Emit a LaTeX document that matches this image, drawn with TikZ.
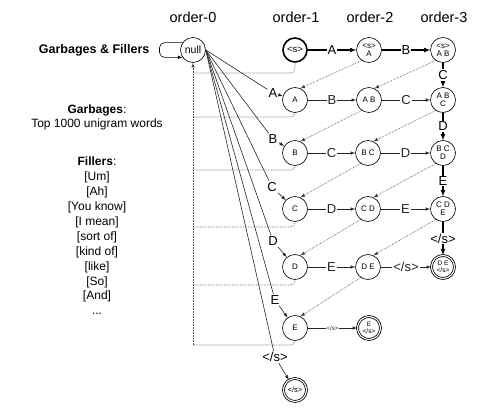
\documentclass[tikz,border=0pt]{standalone}
\usepackage{fontspec}
\setmainfont{Liberation Sans}

\begin{document}
\begin{tikzpicture}[x=1pt, y=-1pt, >=latex, line width=0.6pt,
    state/.style={circle, draw, minimum size=25pt, inner sep=0pt, align=center, font=\fontsize{8}{8}\selectfont},
    start/.style={state, line width=1.6pt, minimum size=24pt, font=\fontsize{9.5}{10}\selectfont},
    final/.style={state, double, line width=0.8pt, double distance=1.1pt, minimum size=23pt, font=\fontsize{6.5}{6.5}\selectfont},
    lbl/.style={fill=white, inner sep=1pt, font=\fontsize{13}{13}\selectfont},
    tinylbl/.style={fill=white, inner sep=1pt, font=\fontsize{6}{6}\selectfont},
    hdr/.style={font=\fontsize{14.5}{15}\selectfont},
    txt/.style={align=center, font=\fontsize{12}{14.9}\selectfont},
    edge/.style={->, black!85},
    big/.style={->, line width=1.1pt},
    back/.style={densely dotted, black!75}
]

\useasboundingbox (0,0) rectangle (490,414);

% Headers
\node[hdr] (h0) at (193,17) {order-0};
\node[hdr] (h1) at (296,17) {order-1};
\node[hdr] (h2) at (370,17) {order-2};
\node[hdr] (h3) at (444,17) {order-3};

% Left text
\node[anchor=east, font=\bfseries\fontsize{12.5}{13}\selectfont] (gf) at (153,50) {Garbages \& Fillers};
\node[txt, font=\fontsize{12}{14}\selectfont] (garb) at (97,117) {\textbf{Garbages}:\\Top 1000 unigram words};
\node[txt] (fill) at (97,236) {\textbf{Fillers}:\\{[Um]}\\{[Ah]}\\{[You know]}\\{[I mean]}\\{[sort of]}\\{[kind of]}\\{[like]}\\{[So]}\\{[And]}\\...};

% Nodes
\node[state, font=\fontsize{10.5}{11}\selectfont] (null) at (193,50) {null};
\node[start] (s1) at (295,50) {<s>};
\node[state] (s2) at (369,50) {<s>\\A};
\node[state] (s3) at (443,50) {<s>\\A B};
\node[state] (a1) at (295,100) {A};
\node[state] (a2) at (369,100) {A B};
\node[state] (a3) at (443,100) {A B\\C};
\node[state] (b1) at (295,153) {B};
\node[state] (b2) at (368,153) {B C};
\node[state] (b3) at (443,153) {B C\\D};
\node[state] (c1) at (295,209) {C};
\node[state] (c2) at (368,209) {C D};
\node[state] (c3) at (443,209) {C D\\E};
\node[state] (d1) at (295,267) {D};
\node[state] (d2) at (368,267) {D E};
\node[final] (d3) at (443,267) {D E\\</s>};
\node[state] (e1) at (295,328) {E};
\node[final] (e2) at (369,328) {E\\</s>};
\node[final, font=\fontsize{7.5}{7.5}\selectfont] (fin) at (295,390) {</s>};

% Fan labels
\node[lbl] (fa) at (273,93) {A};
\node[lbl] (fb) at (273,139) {B};
\node[lbl] (fc) at (272,187) {C};
\node[lbl] (fd) at (273,241) {D};
\node[lbl] (fe) at (275,300) {E};
\node[lbl] (fs) at (275,357) {</s>};

% Backoff corners
\coordinate (k0) at (193,73);
\coordinate (k1) at (193,117);
\coordinate (k2) at (193,170);
\coordinate (k3) at (193,227);
\coordinate (k4) at (193,285);
\coordinate (k5) at (193,345);

% Arrows
\draw[->, rounded corners=5pt] (null.145) -- ++(-23,0) |- (null.215);
\draw[big] (s1) -- node[lbl]{A} (s2);
\draw[big] (s2) -- node[lbl]{B} (s3);
\draw[big] (s3) -- node[lbl]{C} (a3);
\draw[big] (a3) -- node[lbl]{D} (b3);
\draw[big] (b3) -- node[lbl]{E} (c3);
\draw[big] (c3) -- node[lbl]{</s>} (d3);
\draw[edge] (a1) -- node[lbl]{B} (a2);
\draw[edge] (a2) -- node[lbl]{C} (a3);
\draw[edge] (b1) -- node[lbl]{C} (b2);
\draw[edge] (b2) -- node[lbl]{D} (b3);
\draw[edge] (c1) -- node[lbl]{D} (c2);
\draw[edge] (c2) -- node[lbl]{E} (c3);
\draw[edge] (d1) -- node[lbl]{E} (d2);
\draw[edge] (d2) -- node[lbl]{</s>} (d3);
\draw[edge] (e1) -- node[tinylbl]{</s>} (e2);

\draw[black!85] (null.east) -- (fa);
\draw[black!85] (null.east) -- (fb);
\draw[black!85] (null.east) -- (fc);
\draw[black!85] (null.east) -- (fd);
\draw[black!85] (null.east) -- (fe);
\draw[black!85] (null.east) -- (fs);
\draw[edge] (fa) -- (a1);
\draw[edge] (fb) -- (b1);
\draw[edge] (fc) -- (c1);
\draw[edge] (fd) -- (d1);
\draw[edge] (fe) -- (e1);
\draw[edge] (fs) -- (fin);

\draw[back, ->] (s2.-125) -- (a1.65);
\draw[back, ->] (s3.-125) -- (a2.65);
\draw[back, ->] (a2.-125) -- (b1.65);
\draw[back, ->] (a3.-125) -- (b2.65);
\draw[back, ->] (b2.-125) -- (c1.65);
\draw[back, ->] (b3.-125) -- (c2.65);
\draw[back, ->] (c2.-125) -- (d1.65);
\draw[back, ->] (c3.-125) -- (d2.65);
\draw[back, ->] (d2.-125) -- (e1.65);

\draw[back, rounded corners=4pt] (s1.south) |- (k0);
\draw[back, rounded corners=4pt] (a1.south) |- (k1);
\draw[back, rounded corners=4pt] (b1.south) |- (k2);
\draw[back, rounded corners=4pt] (c1.south) |- (k3);
\draw[back, rounded corners=4pt] (d1.south) |- (k4);
\draw[back, rounded corners=4pt] (e1.south) |- (k5);
\draw[back, ->] (k5) -- (null.south);

\end{tikzpicture}
\end{document}
